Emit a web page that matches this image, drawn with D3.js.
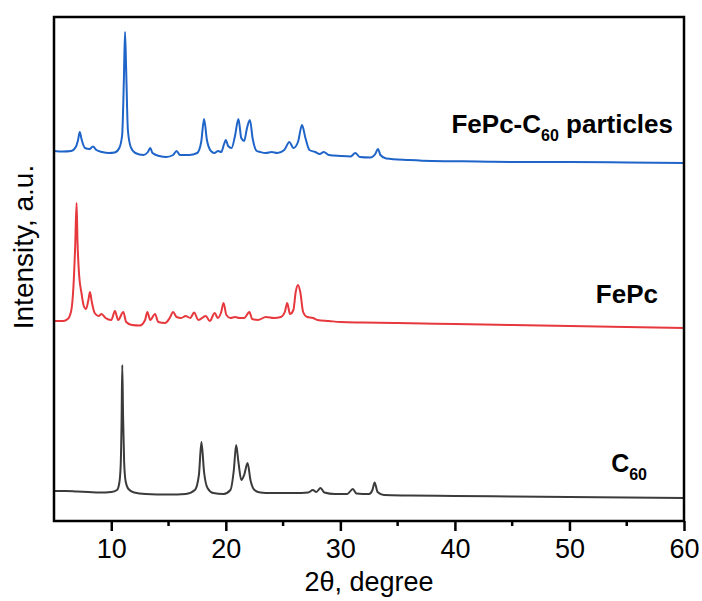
<!DOCTYPE html>
<html>
<head>
<meta charset="utf-8">
<script src="https://cdn.jsdelivr.net/npm/d3@7"></script>
<style>
  body { margin: 0; background: #fff; }
  text { font-family: "Liberation Sans", Arial, sans-serif; }
</style>
</head>
<body>
<svg id="chart" width="702" height="601"></svg>
<script>
// 2theta (degree), intensity (a.u., offsets included)
const hybridPattern = [
  [5.0,370],[5.8,369.5],[6.5,370],[6.9,374],[7.1,381],[7.25,389],[7.4,382],[7.7,373],
  [8.1,372],[8.4,374.5],[8.7,371],[9.2,369],[9.8,368],[10.3,368.5],[10.7,373],[10.95,386],
  [11.1,441],[11.2,489],[11.3,451],[11.45,391],[11.7,374],[12.1,368],[12.8,366],[13.2,369],
  [13.4,373],[13.6,368],[14.2,365],[14.8,364],[15.4,366],[15.7,370],[16.0,366],[16.8,366],
  [17.5,368],[17.85,379],[18.1,402],[18.35,381],[18.7,370],[19.0,368],[19.33,370],[19.6,369],
  [19.85,377],[20.0,381],[20.2,375],[20.5,373],[20.8,385],[21.1,402],[21.35,383],[21.6,380],
  [21.85,393],[22.1,401],[22.35,382],[22.7,370],[23.0,369],[23.5,368],[24.0,369],[24.5,368],
  [25.1,371],[25.55,379],[25.9,373],[26.3,379],[26.65,396],[26.95,383],[27.3,371],[27.8,369],
  [28.2,367],[28.55,369],[29.0,366],[30.0,365],[30.9,364.5],[31.3,368],[31.7,364],[32.6,363.5],
  [33.05,367],[33.28,372],[33.5,366],[34.0,362.5],[36,361],[38,360],[42,359.5],[46,359],
  [50,359],[55,358.5],[60,358]
];
const fepcPattern = [
  [5.0,200],[5.8,200],[6.2,202],[6.5,210],[6.7,235],[6.85,275],[6.97,318],[7.05,280],
  [7.2,245],[7.4,228],[7.6,215],[7.8,212],[8.0,221],[8.14,229],[8.3,219],[8.55,208],
  [8.9,205],[9.15,207],[9.5,203],[10.0,201],[10.32,210],[10.6,201],[11.05,209],[11.3,199],
  [11.8,196],[12.5,195.5],[12.95,201],[13.15,209],[13.4,201],[13.82,207],[14.1,199],[14.7,198],
  [15.1,203],[15.4,209],[15.7,204],[16.1,203],[16.5,205],[16.9,203],[17.23,208.5],[17.6,201],
  [18.25,205],[18.6,200],[19.03,208],[19.3,203],[19.6,209],[19.8,218],[20.05,206],[20.4,203],
  [20.8,204],[21.2,203],[21.6,203],[22.06,209],[22.3,202],[22.8,201],[23.5,204],[24.2,203],
  [24.8,204],[25.15,209],[25.36,218],[25.6,207],[25.9,211],[26.1,229],[26.3,236],[26.5,229],
  [26.75,209],[27.1,204],[27.6,203],[28.0,201],[29,200],[30,199],[32,198.5],[35,198],
  [40,197],[45,196],[50,195],[55,194],[60,193]
];
const c60Pattern = [
  [5.0,30],[6,30],[7,29.5],[8,29],[9,28.5],[10,29],[10.5,31],[10.7,38],[10.82,55],
  [10.9,100],[10.96,156],[11.03,105],[11.12,60],[11.25,40],[11.5,32],[12,28.5],[13,27],
  [15,26.5],[16.5,27],[17.3,31],[17.65,46],[17.87,79],[18.1,49],[18.4,33],[18.9,28],
  [19.8,27],[20.4,31],[20.7,51],[20.9,76],[21.1,59],[21.35,41],[21.6,46],[21.9,58],
  [22.15,41],[22.5,31],[23,28.5],[24,28],[26,28],[27.2,28.5],[27.6,31],[27.9,29],
  [28.27,33],[28.6,28.5],[29.5,27],[30.6,27],[31.09,32],[31.4,27.5],[32.5,27],[32.8,31],
  [32.99,38.5],[33.25,29],[33.8,26],[36,25.5],[40,25],[45,24.5],[50,24],[55,23.5],[60,23]
];

const seriesColors = ["#1f64c8", "#e6383d", "#3b3b3b"];
const majorTicks = [10, 20, 30, 40, 50, 60];
const minorTicks = [15, 25, 35, 45, 55];

const svg = d3.select("#chart");
const m = { left: 54, right: 684, top: 17, bottom: 521 };

const x = d3.scaleLinear().domain([5, 60]).range([m.left, m.right]);
const y = d3.scaleLinear().domain([0, 504]).range([m.bottom, m.top]);

const line = d3.line()
  .x(d => x(d[0]))
  .y(d => y(d[1]))
  .curve(d3.curveMonotoneX);

const patterns = [hybridPattern, fepcPattern, c60Pattern];
svg.append("g")
  .selectAll("path")
  .data(patterns)
  .enter().append("path")
  .attr("d", line)
  .attr("fill", "none")
  .attr("stroke", (d, i) => seriesColors[i])
  .attr("stroke-width", 2)
  .attr("stroke-linejoin", "round");

// frame
svg.append("rect")
  .attr("x", m.left).attr("y", m.top)
  .attr("width", m.right - m.left).attr("height", m.bottom - m.top)
  .attr("fill", "none")
  .attr("stroke", "#000")
  .attr("stroke-width", 2.5);

// bottom axis
const xAxis = d3.axisBottom(x)
  .tickValues(majorTicks)
  .tickSize(10)
  .tickPadding(8)
  .tickFormat(d3.format("d"));

const gx = svg.append("g")
  .attr("transform", `translate(0,${m.bottom})`)
  .call(xAxis);
gx.select(".domain").remove();
gx.selectAll(".tick line").attr("stroke", "#000").attr("stroke-width", 2.5);
gx.selectAll(".tick text")
  .attr("fill", "#000")
  .style("font-size", "27px")
  .style("font-family", "'Liberation Sans', Arial, sans-serif");

svg.append("g")
  .selectAll("line")
  .data(minorTicks)
  .enter().append("line")
  .attr("x1", d => x(d)).attr("x2", d => x(d))
  .attr("y1", m.bottom).attr("y2", m.bottom + 5)
  .attr("stroke", "#000")
  .attr("stroke-width", 2.5);

// axis titles
svg.append("text")
  .attr("x", 369).attr("y", 591)
  .attr("text-anchor", "middle")
  .style("font-size", "27px")
  .text("2θ, degree");

svg.append("text")
  .attr("transform", "translate(33,247) rotate(-90)")
  .attr("text-anchor", "middle")
  .style("font-size", "28px")
  .text("Intensity, a.u.");

// series labels
function label(xEnd, yBase, parts, size) {
  const t = svg.append("text")
    .attr("x", xEnd).attr("y", yBase)
    .attr("text-anchor", "end")
    .style("font-weight", "bold")
    .style("font-size", size + "px");
  parts.forEach(p => {
    const s = t.append("tspan").text(p.text);
    if (p.sub) {
      s.attr("dy", 8).style("font-size", Math.round(size * 0.62) + "px");
    } else if (p.after) {
      s.attr("dy", -8);
    }
  });
}

label(673, 133, [{ text: "FePc-C" }, { text: "60", sub: true }, { text: " particles", after: true }], 26);
label(658, 303, [{ text: "FePc" }], 26);
label(647, 472, [{ text: "C" }, { text: "60", sub: true }], 25);
</script>
</body>
</html>
